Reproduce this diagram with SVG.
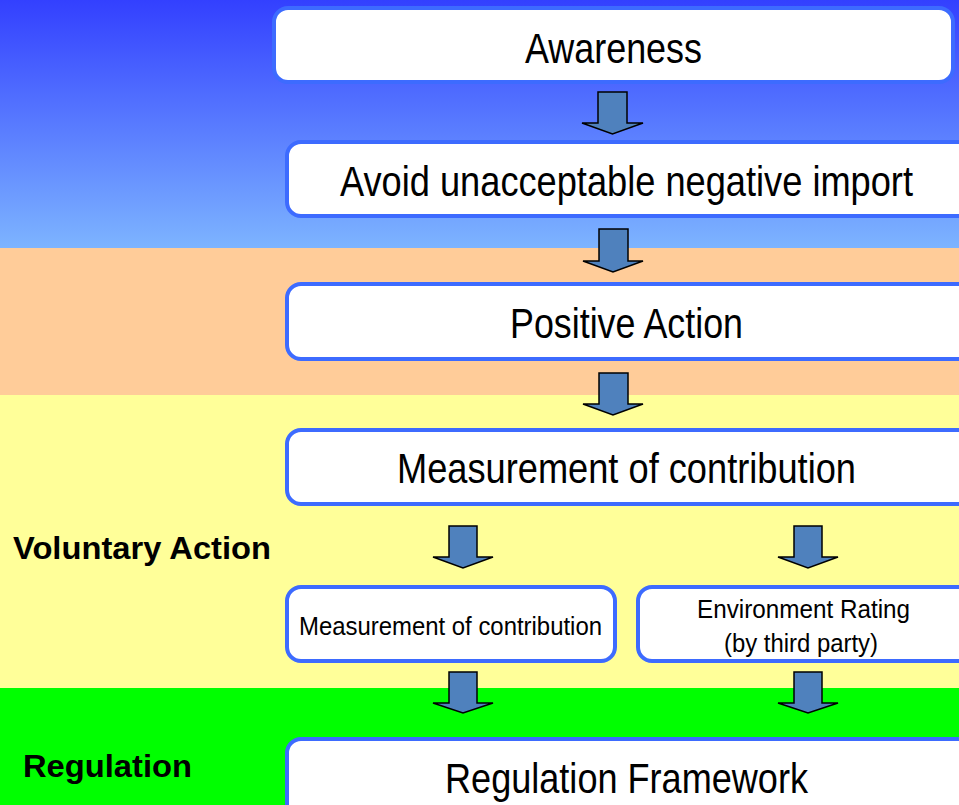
<svg xmlns="http://www.w3.org/2000/svg" width="959" height="805" viewBox="0 0 959 805">
<defs>
<linearGradient id="sky" x1="0" y1="0" x2="0" y2="1">
<stop offset="0" stop-color="#3340ff"/>
<stop offset="1" stop-color="#7db4ff"/>
</linearGradient>
<style>
.box{fill:#ffffff;stroke:#3d6bff;stroke-width:4}
.arr{fill:#4f81bd;stroke:#000000;stroke-width:1.5;stroke-linejoin:miter}
.t{font-family:"Liberation Sans Narrow","Liberation Sans",Arial,sans-serif;fill:#000;text-anchor:middle}
.big{font-size:42px}
.sm{font-size:26px}
.lab{font-family:"Liberation Sans",Arial,sans-serif;font-weight:bold;font-size:32px;fill:#000}
</style>
</defs>
<g id="background">
<rect x="0" y="0" width="959" height="248" fill="url(#sky)"/>
<rect x="0" y="248" width="959" height="147" fill="#ffcc99"/>
<rect x="0" y="395" width="959" height="293" fill="#ffff99"/>
<rect x="0" y="688" width="959" height="117" fill="#00ff00"/>
</g>
<g id="labels">
<text class="lab" x="13" y="559" textLength="258" lengthAdjust="spacingAndGlyphs">Voluntary Action</text>
<text class="lab" x="23" y="777" textLength="169" lengthAdjust="spacingAndGlyphs">Regulation</text>
</g>
<g id="connectors">
<polygon class="arr" points="598,92 627,92 627,123 643,123 612.5,134 582,123 598,123"/>
<polygon class="arr" points="599,229 628,229 628,261 643,261 613,272 583,261 599,261"/>
<polygon class="arr" points="599,373 628,373 628,404 643,404 613,415 583,404 599,404"/>
<polygon class="arr" points="449,526 477,526 477,557 493,557 463,568 433,557 449,557"/>
<polygon class="arr" points="794,526 822,526 822,557 838,557 808,568 778,557 794,557"/>
<polygon class="arr" points="449,672 477,672 477,703 493,703 463,713 433,703 449,703"/>
<polygon class="arr" points="794,672 822,672 822,703 838,703 808,713 778,703 794,703"/>
</g>
<g id="awareness">
<rect class="box" x="274" y="8" width="679" height="74" rx="14"/>
<text class="t big" x="613.5" y="63" textLength="177" lengthAdjust="spacingAndGlyphs">Awareness</text>
</g>
<g id="avoid">
<rect class="box" x="287" y="142" width="700" height="74" rx="14"/>
<text class="t big" x="626.5" y="196" textLength="573" lengthAdjust="spacingAndGlyphs">Avoid unacceptable negative import</text>
</g>
<g id="positive">
<rect class="box" x="287" y="284" width="700" height="75" rx="14"/>
<text class="t big" x="626.5" y="338" textLength="233" lengthAdjust="spacingAndGlyphs">Positive Action</text>
</g>
<g id="measurement">
<rect class="box" x="287" y="430" width="700" height="74" rx="14"/>
<text class="t big" x="626.5" y="483" textLength="459" lengthAdjust="spacingAndGlyphs">Measurement of contribution</text>
</g>
<g id="measurement-small">
<rect class="box" x="287" y="587" width="328" height="74" rx="14"/>
<text class="t sm" x="450.5" y="635" textLength="303" lengthAdjust="spacingAndGlyphs">Measurement of contribution</text>
</g>
<g id="rating">
<rect class="box" x="638" y="587" width="400" height="74" rx="14"/>
<text class="t sm" x="803.5" y="618" textLength="213" lengthAdjust="spacingAndGlyphs">Environment Rating</text>
<text class="t sm" x="801" y="652" textLength="154" lengthAdjust="spacingAndGlyphs">(by third party)</text>
</g>
<g id="regulation">
<rect class="box" x="287" y="739" width="700" height="100" rx="14"/>
<text class="t big" x="626.5" y="793" textLength="363" lengthAdjust="spacingAndGlyphs">Regulation Framework</text>
</g>
</svg>
